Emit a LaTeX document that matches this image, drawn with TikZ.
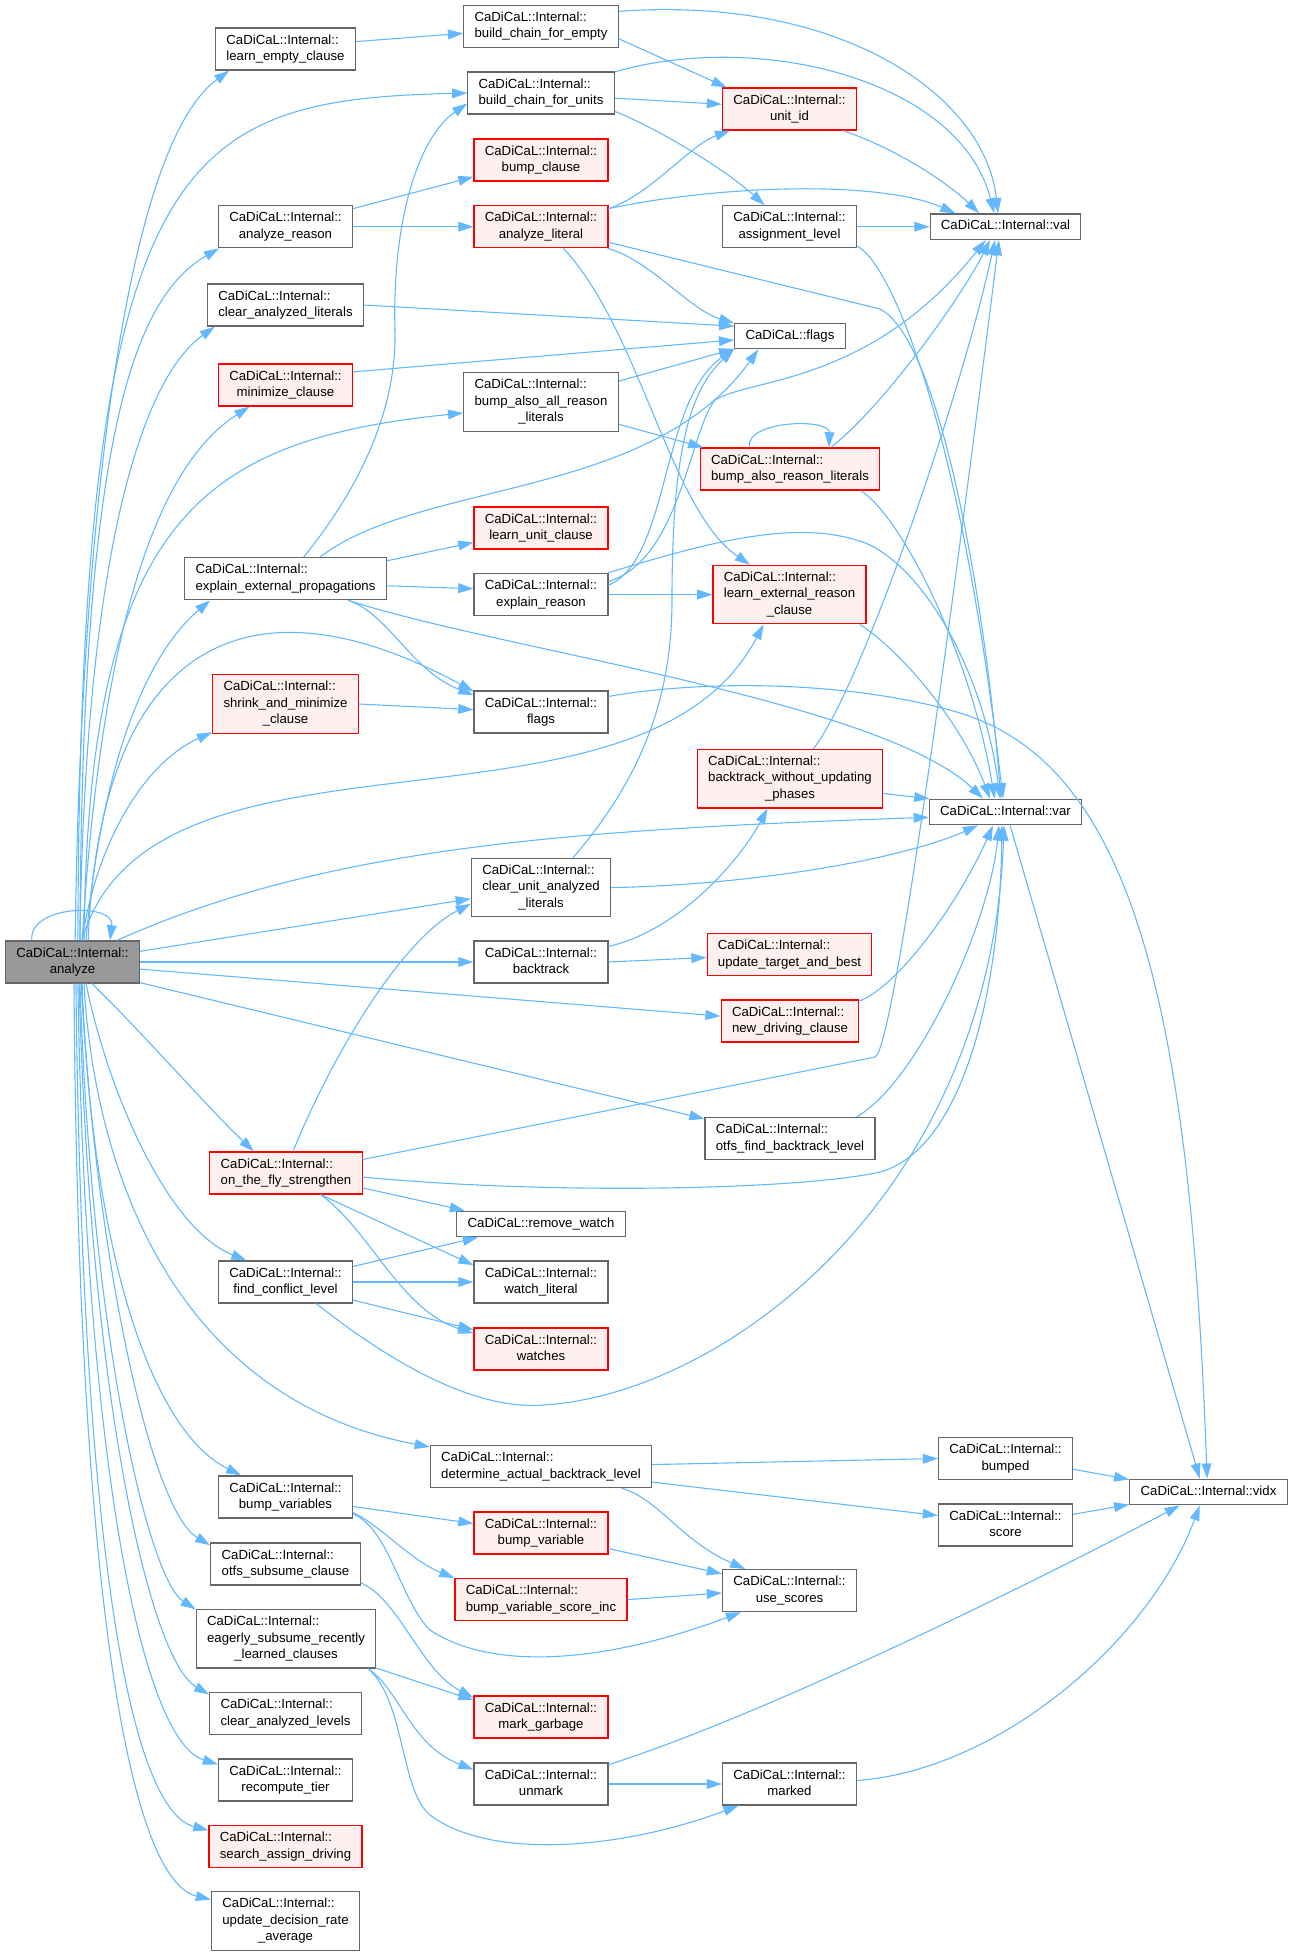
\documentclass[tikz,border=0pt]{standalone}
\usepackage{fontspec}
\setmainfont{Liberation Sans}
\usetikzlibrary{arrows.meta}

\definecolor{edgeblue}{HTML}{63B8FF}
\definecolor{boxgrey}{HTML}{666666}
\definecolor{rootgrey}{HTML}{999999}
\definecolor{truncfill}{HTML}{FFF0F0}

\newcommand{\cdl}[1]{\begin{tabular}{@{}c@{}}\multicolumn{1}{@{}l@{}}{CaDiCaL::Internal::}\\#1\end{tabular}}
\newcommand{\cdo}[1]{\begin{tabular}{@{}c@{}}#1\end{tabular}}

\begin{document}
\begin{tikzpicture}[x=0.5pt, y=-0.5pt,
  fn/.style={draw=boxgrey, fill=white, line width=0.6pt, inner xsep=5.4pt, inner ysep=2.3pt,
    font=\fontsize{6.6}{8.2}\selectfont},
  trunc/.style={fn, draw=red, fill=truncfill},
  root/.style={fn, fill=rootgrey},
  calls/.style={draw=edgeblue, line width=0.55pt, -{Triangle[length=7.6pt,width=4.9pt]}}]
  \useasboundingbox (0,0) rectangle (1294,1956);

  \node[root] (an) at (72.5, 962) {\cdl{analyze}};

  \node[fn] (lec) at (285.5, 49) {\cdl{learn\_empty\_clause}};
  \node[fn] (ar) at (285.5, 226.7) {\cdl{analyze\_reason}};
  \node[fn] (cal) at (285.5, 305) {\cdl{clear\_analyzed\_literals}};
  \node[trunc] (mc) at (285.5, 385) {\cdl{minimize\_clause}};
  \node[fn] (eep) at (285.5, 578.7) {\cdl{explain\_external\_propagations}};
  \node[trunc] (smc) at (285.5, 704) {\cdl{shrink\_and\_minimize\\\_clause}};
  \node[trunc] (otfs) at (286, 1173) {\cdl{on\_the\_fly\_strengthen}};
  \node[fn] (fcl) at (285.5, 1282) {\cdl{find\_conflict\_level}};
  \node[fn] (bvs) at (285.5, 1497) {\cdl{bump\_variables}};
  \node[fn] (osc) at (285.5, 1564) {\cdl{otfs\_subsume\_clause}};
  \node[fn] (esr) at (286, 1638.7) {\cdl{eagerly\_subsume\_recently\\\_learned\_clauses}};
  \node[fn] (cl) at (285.5, 1713.6) {\cdl{clear\_analyzed\_levels}};
  \node[fn] (rt) at (285.5, 1780) {\cdl{recompute\_tier}};
  \node[trunc] (sad) at (285.5, 1846.7) {\cdl{search\_assign\_driving}};
  \node[fn] (udra) at (285.5, 1921) {\cdl{update\_decision\_rate\\\_average}};

  \node[fn] (bce) at (541, 26.5) {\cdl{build\_chain\_for\_empty}};
  \node[fn] (bcu) at (541, 93) {\cdl{build\_chain\_for\_units}};
  \node[trunc] (bc) at (541, 160) {\cdl{bump\_clause}};
  \node[trunc] (al) at (541, 226.7) {\cdl{analyze\_literal}};
  \node[fn] (baar) at (541, 402) {\cdl{bump\_also\_all\_reason\\\_literals}};
  \node[trunc] (luc) at (541, 528) {\cdl{learn\_unit\_clause}};
  \node[fn] (er) at (541, 594.6) {\cdl{explain\_reason}};
  \node[fn] (ifl) at (541, 712) {\cdl{flags}};
  \node[fn] (cual) at (541, 887.6) {\cdl{clear\_unit\_analyzed\\\_literals}};
  \node[fn] (bt) at (541, 962) {\cdl{backtrack}};
  \node[fn] (rw) at (541, 1224) {\cdo{CaDiCaL::remove\_watch}};
  \node[fn] (wl) at (541, 1282) {\cdl{watch\_literal}};
  \node[trunc] (wat) at (541, 1349) {\cdl{watches}};
  \node[fn] (dabl) at (541, 1466.5) {\cdl{determine\_actual\_backtrack\_level}};
  \node[trunc] (bv) at (541, 1533) {\cdl{bump\_variable}};
  \node[trunc] (bvsi) at (541, 1599.6) {\cdl{bump\_variable\_score\_inc}};
  \node[trunc] (mg) at (541, 1717) {\cdl{mark\_garbage}};
  \node[fn] (um) at (541, 1784) {\cdl{unmark}};

  \node[trunc] (uid) at (789.5, 109) {\cdl{unit\_id}};
  \node[fn] (asl) at (789.5, 226.7) {\cdl{assignment\_level}};
  \node[fn] (cfl) at (790, 336) {\cdo{CaDiCaL::flags}};
  \node[trunc] (bar) at (790, 469) {\cdl{bump\_also\_reason\_literals}};
  \node[trunc] (lerc) at (789.5, 594.6) {\cdl{learn\_external\_reason\\\_clause}};
  \node[trunc] (bwup) at (790, 778.7) {\cdl{backtrack\_without\_updating\\\_phases}};
  \node[trunc] (utab) at (789.5, 954.6) {\cdl{update\_target\_and\_best}};
  \node[trunc] (ndc) at (790, 1021) {\cdl{new\_driving\_clause}};
  \node[fn] (ofbl) at (790, 1138.6) {\cdl{otfs\_find\_backtrack\_level}};
  \node[fn] (us) at (789.5, 1590.6) {\cdl{use\_scores}};
  \node[fn] (mk) at (789.5, 1784) {\cdl{marked}};

  \node[fn] (val) at (1005.5, 226.7) {\cdo{CaDiCaL::Internal::val}};
  \node[fn] (var) at (1005.5, 812) {\cdo{CaDiCaL::Internal::var}};
  \node[fn] (bmp) at (1005.5, 1458.5) {\cdl{bumped}};
  \node[fn] (sc) at (1005.5, 1525) {\cdl{score}};
  \node[fn] (vidx) at (1208.5, 1492) {\cdo{CaDiCaL::Internal::vidx}};

  % calls made by analyze
  \draw[calls] (an.152) .. controls (28,905) and (115,902) .. (an.30);
  \draw[calls] (an.83) .. controls (80,560) and (120,150) .. (lec.-159);
  \draw[calls] (an.76) .. controls (80,150) and (180,100) .. (bcu.west);
  \draw[calls] (an.71) .. controls (82,450) and (130,300) .. (ar.-162);
  \draw[calls] (an.71) .. controls (85,560) and (140,380) .. (cal.-163);
  \draw[calls] (an.66) .. controls (100,650) and (150,470) .. (mc.-149);
  \draw[calls] (an.62) .. controls (88,520) and (200,440) .. (baar.-172);
  \draw[calls] (an.58) .. controls (100,780) and (140,660) .. (eep.-164);
  \draw[calls] (an.54) .. controls (100,640) and (250,570) .. (ifl.163);
  \draw[calls] (an.66) .. controls (95,850) and (140,765) .. (smc.-159);
  \draw[calls] (an.66) .. controls (150,700) and (640,860) .. (lerc.-131);
  \draw[calls] (an.26) .. controls (320,850) and (550,830) .. (var.-176);
  \draw[calls] (an.9) -- (cual.-171);
  \draw[calls] (an.east) -- (bt.west);
  \draw[calls] (an.-6) -- (ndc.176);
  \draw[calls] (an.-17) -- (ofbl.167);
  \draw[calls] (an.-48) .. controls (140,1030) and (210,1110) .. (otfs.146);
  \draw[calls] (an.-58) .. controls (110,1100) and (170,1230) .. (fcl.151);
  \draw[calls] (an.-62) .. controls (95,1180) and (180,1400) .. (dabl.170);
  \draw[calls] (an.-66) .. controls (92,1250) and (150,1430) .. (bvs.154);
  \draw[calls] (an.-68) .. controls (95,1250) and (150,1510) .. (osc.166);
  \draw[calls] (an.-71) .. controls (92,1350) and (150,1580) .. (esr.162);
  \draw[calls] (an.-73) .. controls (90,1400) and (150,1660) .. (cl.166);
  \draw[calls] (an.-76) .. controls (85,1450) and (140,1740) .. (rt.167);
  \draw[calls] (an.-81) .. controls (82,1550) and (130,1810) .. (sad.168);
  \draw[calls] (an.-86) .. controls (78,1600) and (130,1880) .. (udra.164);

  % upper part
  \draw[calls] (lec.6) -- (bce.-175);
  \draw[calls] (bce.11) .. controls (840,-5) and (985,95) .. (val.119);
  \draw[calls] (bce.-9) -- (uid.161);
  \draw[calls] (bcu.16) .. controls (760,30) and (960,80) .. (val.130);
  \draw[calls] (bcu.-4) -- (uid.176);
  \draw[calls] (bcu.-14) .. controls (650,125) and (720,165) .. (asl.139);
  \draw[calls] (ar.15) -- (bc.-166);
  \draw[calls] (ar.east) -- (al.west);
  \draw[calls] (al.15) .. controls (650,195) and (690,145) .. (uid.-160);
  \draw[calls] (al.15) .. controls (720,185) and (880,180) .. (val.165);
  \draw[calls] (al.-13) -- (880,309) .. controls (940,340) and (985,600) .. (var.109);
  \draw[calls] (al.-18) .. controls (650,260) and (690,310) .. (cfl.167);
  \draw[calls] (al.-44) .. controls (640,330) and (670,510) .. (lerc.143);
  \draw[calls] (asl.east) -- (val.west);
  \draw[calls] (asl.-16) .. controls (890,262) and (960,420) .. (var.101);
  \draw[calls] (uid.-22) .. controls (900,150) and (950,185) .. (val.153);
  \draw[calls] (cal.east) -- (cfl.170);
  \draw[calls] (mc.11) -- (cfl.-176);
  \draw[calls] (baar.15) -- (cfl.-167);
  \draw[calls] (baar.-16) -- (bar.166);
  \draw[calls] (bar.152) .. controls (745,420) and (830,418) .. (bar.29);
  \draw[calls] (bar.28) .. controls (880,410) and (960,300) .. (val.-139);
  \draw[calls] (bar.-17) .. controls (900,515) and (970,650) .. (var.129);
  \draw[calls] (eep.50) .. controls (350,500) and (397,420) .. (395,330) .. controls (392,230) and (415,140) .. (bcu.-172);
  \draw[calls] (eep.32) .. controls (420,480) and (650,500) .. (cfl.-157);
  \draw[calls] (eep.10) -- (luc.-168);
  \draw[calls] (eep.-4) -- (er.175);
  \draw[calls] (eep.-19) .. controls (390,615) and (410,670) .. (ifl.166);
  \draw[calls] (eep.-19) .. controls (500,650) and (880,700) .. (var.149);
  \draw[calls] (er.8) .. controls (670,560) and (660,400) .. (cfl.-167);
  \draw[calls] (er.11) .. controls (680,560) and (690,430) .. (715,400) .. controls (750,378) and (870,385) .. (val.-146);
  \draw[calls] (er.18) .. controls (700,545) and (800,515) .. (870,545) .. controls (930,575) and (985,680) .. (var.112);
  \draw[calls] (er.east) -- (lerc.west);
  \draw[calls] (lerc.-23) .. controls (900,650) and (960,720) .. (var.139);

  % middle part
  \draw[calls] (smc.east) -- (ifl.178);
  \draw[calls] (ifl.13) .. controls (700,680) and (850,680) .. (960,713) .. controls (1130,765) and (1190,1000) .. (vidx.96);
  \draw[calls] (bwup.52) .. controls (860,690) and (960,400) .. (val.-128);
  \draw[calls] (bwup.-9) -- (var.170);
  \draw[calls] (cual.43) .. controls (640,780) and (672,700) .. (672,600) .. controls (672,450) and (690,390) .. (cfl.-167);
  \draw[calls] (cual.east) .. controls (750,885) and (900,860) .. (var.-154);
  \draw[calls] (bt.13) .. controls (680,930) and (740,860) .. (bwup.-127);
  \draw[calls] (bt.east) -- (utab.-178);
  \draw[calls] (ndc.16) .. controls (900,985) and (960,900) .. (var.-133);
  \draw[calls] (ofbl.18) .. controls (920,1080) and (990,920) .. (var.-116);
  \draw[calls] (otfs.72) .. controls (330,1060) and (400,940) .. (cual.-167);
  \draw[calls] (otfs.10) -- (875,1057) .. controls (895,1050) and (960,550) .. (val.-116);
  \draw[calls] (otfs.-3) .. controls (550,1195) and (800,1190) .. (880,1172) .. controls (960,1150) and (1000,1000) .. (var.-105);
  \draw[calls] (otfs.-11) -- (rw.170);
  \draw[calls] (otfs.-32) -- (wl.166);
  \draw[calls] (otfs.-32) .. controls (370,1230) and (400,1310) .. (wat.167);
  \draw[calls] (fcl.13) -- (rw.-168);
  \draw[calls] (fcl.east) -- (wl.west);
  \draw[calls] (fcl.-15) -- (wat.164);
  \draw[calls] (fcl.-35) .. controls (400,1370) and (480,1410) .. (543,1405) .. controls (720,1395) and (990,1200) .. (var.-96);
  \draw[calls] (var.-71) -- (vidx.123);

  % lower part
  \draw[calls] (dabl.1) -- (bmp.west);
  \draw[calls] (dabl.-8) -- (sc.172);
  \draw[calls] (dabl.-15) .. controls (660,1500) and (680,1540) .. (us.154);
  \draw[calls] (bmp.-9) -- (vidx.171);
  \draw[calls] (sc.9) -- (vidx.-171);
  \draw[calls] (bvs.-8) -- (bv.172);
  \draw[calls] (bvs.-13) .. controls (380,1525) and (410,1560) .. (bvsi.166);
  \draw[calls] (bvs.-14) .. controls (390,1530) and (400,1600) .. (430,1630) .. controls (490,1670) and (600,1665) .. (us.-156);
  \draw[calls] (bv.-13) -- (us.166);
  \draw[calls] (bvsi.east) -- (us.-178);
  \draw[calls] (osc.-14) .. controls (400,1600) and (420,1670) .. (mg.164);
  \draw[calls] (esr.-18) -- (mg.166);
  \draw[calls] (esr.-20) .. controls (400,1690) and (410,1745) .. (um.168);
  \draw[calls] (esr.-20) .. controls (405,1700) and (400,1790) .. (430,1815) .. controls (490,1860) and (620,1850) .. (mk.-157);
  \draw[calls] (um.east) -- (mk.west);
  \draw[calls] (um.16) .. controls (750,1720) and (1000,1600) .. (vidx.-155);
  \draw[calls] (mk.3) .. controls (1000,1770) and (1150,1640) .. (vidx.-123);
\end{tikzpicture}
\end{document}
